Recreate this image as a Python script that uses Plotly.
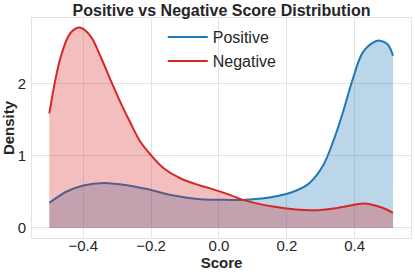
import plotly.graph_objects as go

score_pos = [-0.5, -0.447, -0.4, -0.339, -0.281, -0.212, -0.134, -0.056, 0.032, 0.071,
             0.169, 0.228, 0.267, 0.306, 0.335, 0.365, 0.394, 0.423, 0.453, 0.475, 0.497, 0.513]
dens_pos = [0.35, 0.51, 0.59, 0.625, 0.60, 0.54, 0.45, 0.40, 0.39, 0.39,
            0.44, 0.52, 0.625, 0.86, 1.18, 1.60, 2.06, 2.43, 2.57, 2.60, 2.55, 2.39]

score_neg = [-0.5, -0.466, -0.437, -0.408, -0.378, -0.349, -0.320, -0.290, -0.261, -0.232,
             -0.202, -0.163, -0.114, -0.056, -0.026, 0.032, 0.071, 0.169, 0.277, 0.365,
             0.428, 0.482, 0.513]
dens_neg = [1.59, 2.38, 2.71, 2.78, 2.66, 2.38, 2.06, 1.74, 1.46, 1.20,
            1.02, 0.83, 0.69, 0.59, 0.55, 0.46, 0.39, 0.29, 0.245, 0.29,
            0.34, 0.28, 0.21]

series_names = ["Positive", "Negative"]
x_ticks = [-0.4, -0.2, 0.0, 0.2, 0.4]
y_ticks = [0, 1, 2]

BLUE = "#1f77b4"
RED = "#d62728"
FONT = "Liberation Sans, Arial, sans-serif"
TXT = "#262626"
GRID = "#e3e3e3"

fig = go.Figure()
fig.add_trace(go.Scatter(
    x=score_pos, y=dens_pos, name=series_names[0], mode="lines", showlegend=False,
    line=dict(color=BLUE, width=2, shape="spline", smoothing=1.0),
    fill="tozeroy", fillcolor="rgba(31,119,180,0.3)"))
fig.add_trace(go.Scatter(
    x=score_neg, y=dens_neg, name=series_names[1], mode="lines", showlegend=False,
    line=dict(color=RED, width=2, shape="spline", smoothing=1.0),
    fill="tozeroy", fillcolor="rgba(214,39,40,0.3)"))
# legend entries (line only)
for nm, col in zip(series_names, [BLUE, RED]):
    fig.add_trace(go.Scatter(x=[None], y=[None], name=nm, mode="lines",
                             line=dict(color=col, width=2)))

fig.update_layout(
    width=415, height=276,
    margin=dict(l=32, r=4, t=18, b=38, autoexpand=False),
    paper_bgcolor="white", plot_bgcolor="white",
    font=dict(family=FONT, size=15, color=TXT),
    title=dict(text="<b>Positive vs Negative Score Distribution</b>",
               xref="paper", x=0.5, xanchor="center",
               yref="container", y=0.963, yanchor="middle",
               font=dict(size=16, color=TXT)),
    legend=dict(x=0.345, y=0.99, xanchor="left", yanchor="top",
                bgcolor="rgba(255,255,255,0)", font=dict(size=16, color=TXT),
                tracegroupgap=0, itemwidth=40),
    showlegend=True,
)
fig.update_xaxes(
    range=[-0.551, 0.566], tickvals=x_ticks, tickformat=".1f", automargin=False,
    showgrid=True, gridcolor=GRID, gridwidth=1, zeroline=False,
    showline=True, linecolor=GRID, linewidth=1, mirror=True,
    ticks="", ticklabelstandoff=-6,
    title=dict(text="<b>Score</b>", font=dict(size=15, color=TXT), standoff=0),
    tickfont=dict(size=15, color=TXT))
fig.update_yaxes(
    range=[-0.139, 2.914], tickvals=y_ticks, automargin=False,
    showgrid=True, gridcolor=GRID, gridwidth=1, zeroline=False,
    showline=True, linecolor=GRID, linewidth=1, mirror=True,
    ticks="", ticklabelstandoff=2,
    title=dict(text="<b>Density</b>", font=dict(size=15, color=TXT), standoff=0),
    tickfont=dict(size=15, color=TXT))

fig.write_html("out.html", config={"displayModeBar": False},
               post_script="document.body.style.margin='0';document.body.style.padding='0';")
